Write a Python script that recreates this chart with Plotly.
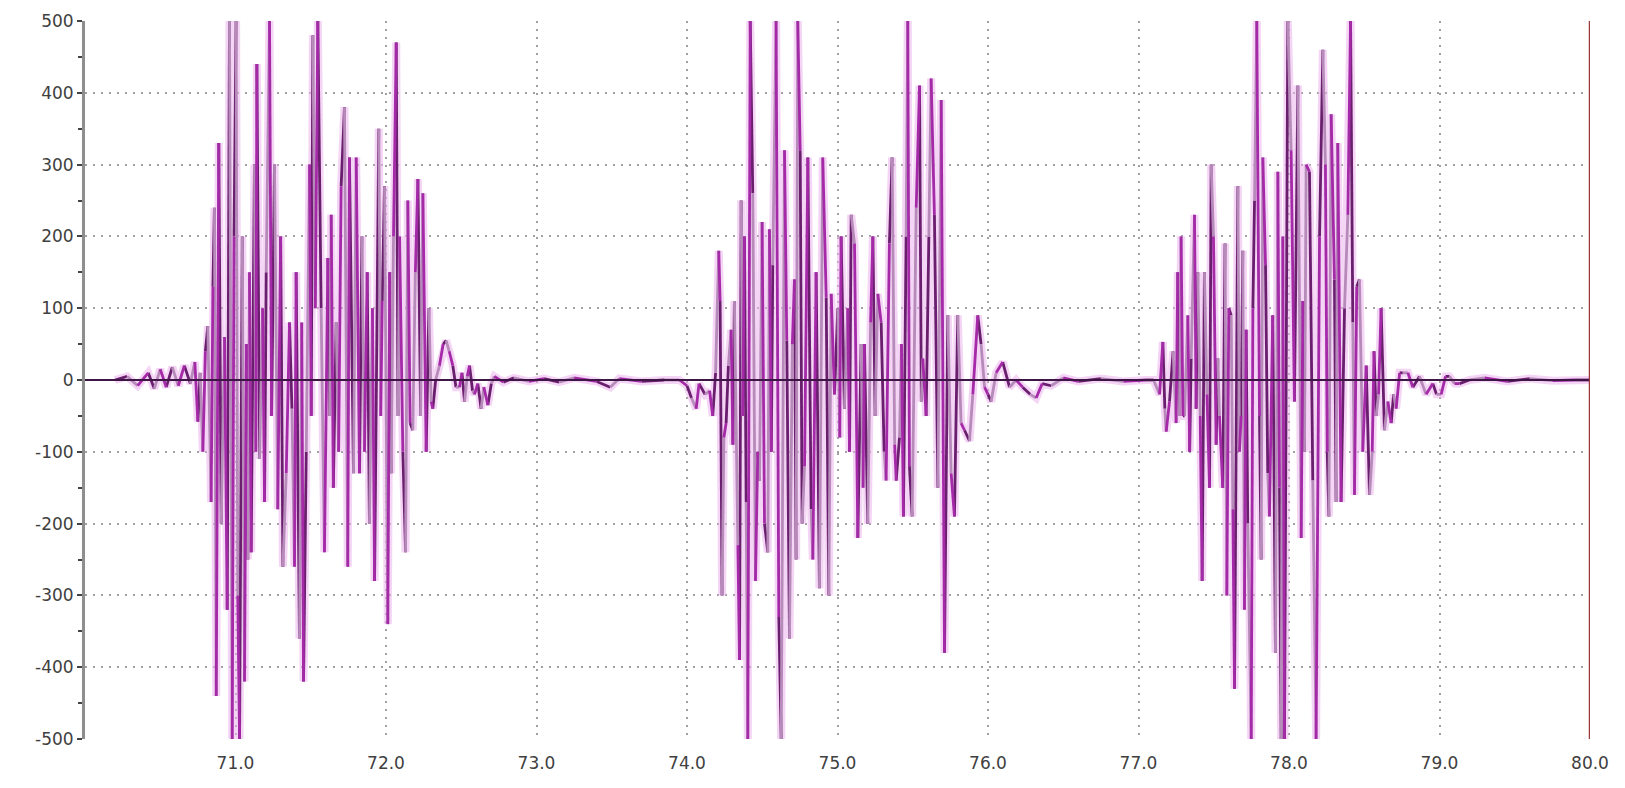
import plotly.graph_objects as go

# ---------------- data ----------------
burst1_t = [70.20, 70.28, 70.35, 70.42, 70.46, 70.50, 70.54, 70.58, 70.62, 70.66, 70.70, 70.73,
            70.750, 70.765, 70.783, 70.800, 70.816, 70.838, 70.850, 70.860, 70.872, 70.889, 70.905,
            70.927, 70.945, 70.960, 70.978, 70.990, 71.004, 71.015, 71.027, 71.045, 71.060, 71.072,
            71.082, 71.093, 71.104, 71.126, 71.135, 71.142, 71.160, 71.180, 71.193, 71.204, 71.226,
            71.240, 71.259, 71.281, 71.300, 71.315, 71.337, 71.359, 71.375, 71.392, 71.403, 71.425,
            71.440, 71.452, 71.470, 71.492, 71.503, 71.514, 71.530, 71.547, 71.569, 71.591, 71.614,
            71.625, 71.636, 71.650, 71.669, 71.685, 71.702, 71.724, 71.746, 71.757, 71.784, 71.802,
            71.824, 71.840, 71.857, 71.875, 71.890, 71.910, 71.924, 71.952, 71.965, 71.975, 71.990,
            72.012, 72.025, 72.034, 72.050, 72.068, 72.080, 72.090, 72.112, 72.130, 72.145, 72.160,
            72.178, 72.195, 72.212, 72.230, 72.245, 72.267, 72.285, 72.300, 72.311, 72.330, 72.355,
            72.380, 72.400, 72.420, 72.444, 72.465, 72.488, 72.505, 72.522, 72.540, 72.555, 72.575,
            72.588, 72.610, 72.632, 72.650, 72.677, 72.700, 72.720, 72.78, 72.85, 72.95, 73.05,
            73.15, 73.25, 73.40, 73.49, 73.55, 73.70, 73.85]
burst1_v = [0, 5, -8, 10, -12, 15, -10, 18, -8, 20, -5, 25,
            -58, 10, -100, 40, 75, -170, 130, 240, -440, 330, -200,
            60, -320, 500, -500, 200, 500, -300, -500, 200, -420, 50,
            -250, 150, -240, 300, -100, 440, -110, 100, -170, 150, 500,
            -50, 300, -180, 200, -260, -130, 80, -40, -260, 150, -360,
            80, -420, -100, 300, -50, 480, 100, 500, 100, -240, 170,
            -50, 230, -150, 80, -100, 270, 380, -260, 310, -130, 310,
            -130, 200, -100, 150, -200, 100, -280, 350, -50, 110, 270,
            -340, 150, -130, 200, 470, -50, 200, -100, -240, 250, -60,
            -70, 150, 280, -50, 260, -100, 100, -30, -40, 0, 20,
            50, 55, 40, 20, -10, -10, 10, -30, 5, 20, -15,
            -20, -5, -40, -10, -35, -5, 5, -3, 3, -2, 2,
            -3, 3, -2, -10, 2, -2, 0]

burst2_t = [73.95, 74.00, 74.03, 74.061, 74.08, 74.12, 74.15, 74.171, 74.19, 74.211, 74.220,
            74.233, 74.245, 74.260, 74.275, 74.293, 74.305, 74.315, 74.338, 74.349, 74.360,
            74.370, 74.382, 74.393, 74.404, 74.420, 74.437, 74.455, 74.470, 74.482, 74.499,
            74.515, 74.537, 74.548, 74.560, 74.570, 74.592, 74.610, 74.626, 74.648, 74.663,
            74.681, 74.700, 74.714, 74.725, 74.736, 74.752, 74.765, 74.781, 74.803, 74.825,
            74.836, 74.858, 74.880, 74.902, 74.925, 74.942, 74.958, 74.980, 75.002, 75.015,
            75.024, 75.046, 75.068, 75.080, 75.091, 75.113, 75.135, 75.157, 75.170, 75.179,
            75.201, 75.220, 75.235, 75.250, 75.268, 75.290, 75.310, 75.323, 75.345, 75.363,
            75.380, 75.390, 75.412, 75.425, 75.438, 75.456, 75.467, 75.478, 75.496, 75.523,
            75.545, 75.557, 75.567, 75.589, 75.607, 75.622, 75.644, 75.667, 75.689, 75.711,
            75.733, 75.755, 75.777, 75.799, 75.821, 75.844, 75.877, 75.899, 75.932, 75.954,
            75.977, 76.000, 76.021, 76.054, 76.098, 76.143, 76.187, 76.23, 76.28, 76.32,
            76.36, 76.42, 76.50, 76.60, 76.75, 76.90, 77.05]
burst2_v = [0, -8, -25, -40, -5, -20, -15, -50, 10, 180, 110,
            -300, -80, -60, 20, 70, -90, 110, -230, -390, 250,
            -50, 200, -170, -500, 500, 260, -280, -100, -140, 220,
            -200, -240, 210, -100, 160, 500, -330, -500, 320, 55,
            -360, 50, 140, -250, 500, 320, -200, -120, 310, -180,
            -250, 150, -290, 310, 115, -300, 120, -20, 100, -80,
            200, -40, 100, -100, 230, 190, -220, 50, -150, 50,
            -200, 80, 200, -50, 120, 80, -100, -140, 190, 310,
            -90, -140, -80, 50, -190, 200, 500, -120, -190, 240,
            410, -30, 30, -50, 200, 420, 230, -150, 390, -380,
            90, -130, -190, 90, -60, -70, -85, -20, 90, 50,
            -10, -20, -30, 10, 25, -10, 0, -10, -20, -25,
            -5, -8, 3, -2, 2, -2, 0]

burst3_t = [77.10, 77.140, 77.162, 77.175, 77.184, 77.206, 77.230, 77.250, 77.261, 77.272,
            77.283, 77.295, 77.306, 77.328, 77.340, 77.350, 77.372, 77.383, 77.394, 77.410,
            77.423, 77.438, 77.455, 77.472, 77.483, 77.498, 77.516, 77.527, 77.538, 77.560,
            77.575, 77.587, 77.600, 77.616, 77.627, 77.638, 77.660, 77.671, 77.682, 77.693,
            77.704, 77.715, 77.726, 77.749, 77.760, 77.771, 77.786, 77.804, 77.815, 77.826,
            77.844, 77.859, 77.870, 77.892, 77.910, 77.926, 77.937, 77.948, 77.959, 77.970,
            77.992, 78.014, 78.036, 78.059, 78.081, 78.092, 78.103, 78.114, 78.136, 78.158,
            78.180, 78.203, 78.225, 78.242, 78.254, 78.265, 78.280, 78.302, 78.313, 78.324,
            78.346, 78.369, 78.391, 78.409, 78.424, 78.435, 78.450, 78.468, 78.490, 78.513,
            78.535, 78.553, 78.565, 78.579, 78.595, 78.612, 78.634, 78.657, 78.679, 78.695,
            78.712, 78.735, 78.756, 78.790, 78.823, 78.867, 78.911, 78.956, 78.980, 79.011,
            79.040, 79.066, 79.100, 79.133, 79.199, 79.30, 79.45, 79.60, 79.75, 79.90, 80.00]
burst3_v = [0, -20, 53, -40, -72, -30, 40, -60, 150, -50,
            200, -50, -50, 90, -100, 30, 230, -40, 150, -50,
            -280, 150, -20, -150, 300, 200, -90, 30, -50, -150,
            190, -300, 100, 90, -180, -430, 270, -100, -50, 180,
            -320, 70, -200, -500, 100, 250, 500, -50, -250, 310,
            160, -130, -190, 90, -380, 290, -150, -500, 200, -500,
            500, 320, -30, 410, -220, 110, -100, 300, 290, -140,
            -500, 200, 460, 300, -100, -190, 370, 140, -170, 330,
            -170, 100, 230, 500, 80, -160, 130, 140, -100, 20,
            -160, -100, 40, -50, -20, 100, -70, -30, -60, -20,
            -40, 10, 10, 10, -10, 5, -20, -5, -20, -20,
            5, 5, -5, -5, 0, 3, -2, 2, -1, 0, 0]

x_tick_vals = [71, 72, 73, 74, 75, 76, 77, 78, 79, 80]
x_tick_text = ["71.0", "72.0", "73.0", "74.0", "75.0", "76.0", "77.0", "78.0", "79.0", "80.0"]
y_tick_vals = [500, 400, 300, 200, 100, 0, -100, -200, -300, -400, -500]
y_tick_text = ["500", "400", "300", "200", "100", "0", "-100", "-200", "-300", "-400", "-500"]

# ---------------- figure ----------------
t_all = burst1_t + burst2_t + burst3_t
v_all = burst1_v + burst2_v + burst3_v

fig = go.Figure()

# soft pink halo under the signal (JPEG-like glow)
fig.add_trace(go.Scatter(x=t_all, y=v_all, mode="lines",
                         line=dict(color="#eeb4ee", width=8), opacity=0.55,
                         hoverinfo="skip", showlegend=False))

# segments coloured in a cycle of purple shades
shades = ["#6a1e6e", "#b68ab9", "#a42aa8"]
seg = {c: ([], []) for c in shades}
for i in range(len(t_all) - 1):
    c = shades[i % 3]
    xs, ys = seg[c]
    xs += [t_all[i], t_all[i + 1], None]
    ys += [v_all[i], v_all[i + 1], None]
for c in shades:
    fig.add_trace(go.Scatter(x=seg[c][0], y=seg[c][1], mode="lines",
                             line=dict(color=c, width=2.8),
                             hoverinfo="skip", showlegend=False))

font = dict(family="DejaVu Sans, Verdana, sans-serif", size=17, color="#404040")

fig.update_layout(
    width=1625, height=788,
    margin=dict(l=85, r=35, t=21, b=49),
    paper_bgcolor="white", plot_bgcolor="white",
    showlegend=False,
    font=font,
    xaxis=dict(range=[70, 80], tickvals=x_tick_vals, ticktext=x_tick_text,
               showgrid=True, gridcolor="#a0a0a0", gridwidth=1.6, griddash="2px,6px",
               zeroline=False, showline=False, ticks="", ticklabelstandoff=12,
               tickfont=font),
    yaxis=dict(range=[-500, 500], tickvals=y_tick_vals, ticktext=y_tick_text,
               showgrid=True, gridcolor="#a0a0a0", gridwidth=1.6, griddash="2px,6px",
               zeroline=False, showline=True, linecolor="#8e8e8e", linewidth=3,
               ticks="outside", ticklen=5, tickwidth=2, tickcolor="#444444",
               minor=dict(dtick=50, ticks="outside", ticklen=4, tickwidth=2,
                          tickcolor="#444444", showgrid=False),
               tickfont=font),
    shapes=[
        dict(type="line", xref="x", yref="y", x0=70, x1=80, y0=0, y1=0,
             line=dict(color="#3e1646", width=2), layer="above"),
        dict(type="line", xref="x", yref="y", x0=80, x1=80, y0=-500, y1=500,
             line=dict(color="#9a3a3a", width=2.5), layer="above"),
    ],
)

fig.write_html("out.html")
